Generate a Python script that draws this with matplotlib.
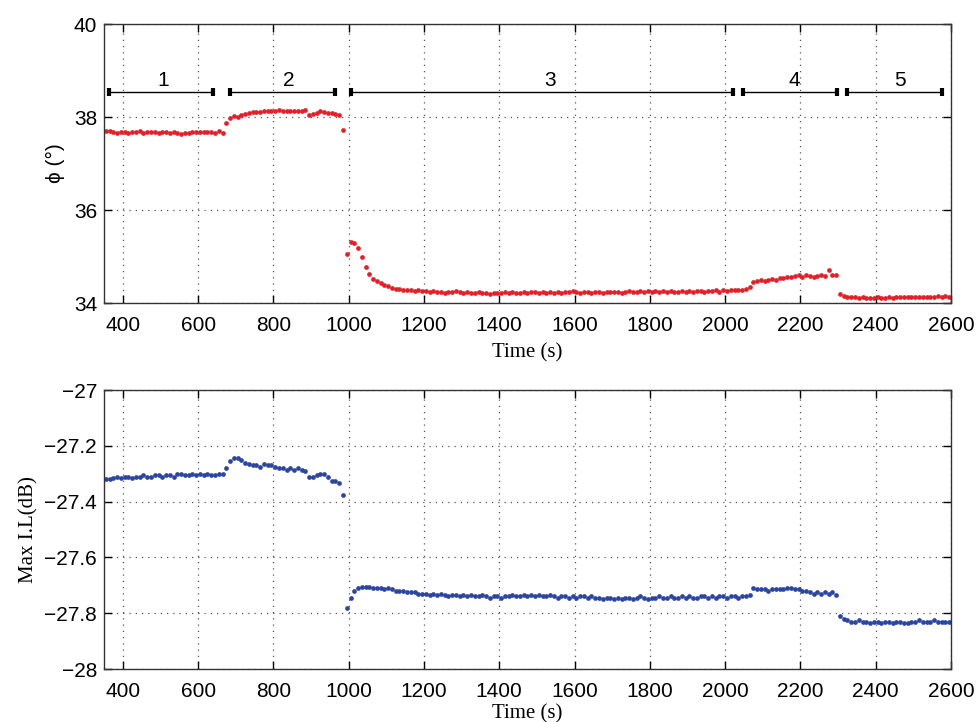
import numpy as np
import matplotlib
matplotlib.use("Agg")
import matplotlib.pyplot as plt

# sampling: one reading every 10 s starting at 355 s
t_start = 355
t_step = 10

# contact angle phi (deg)
phi = [
    # 355 - 665
    37.71, 37.70, 37.67, 37.66, 37.68, 37.67, 37.66, 37.68, 37.67, 37.69,
    37.66, 37.68, 37.67, 37.68, 37.66, 37.68, 37.67, 37.66, 37.67, 37.65,
    37.64, 37.65, 37.66, 37.67, 37.68, 37.67, 37.68, 37.67, 37.68, 37.66,
    37.69, 37.65,
    # 675 - 995
    37.88, 37.98, 38.02, 38.00, 38.05, 38.07, 38.08, 38.10, 38.11, 38.10,
    38.12, 38.13, 38.14, 38.13, 38.15, 38.12, 38.14, 38.13, 38.12, 38.13,
    38.14, 38.16, 38.04, 38.06, 38.09, 38.12, 38.10, 38.08, 38.09, 38.07,
    38.05, 37.72, 35.05,
    # 1005 - 1195
    35.32, 35.30, 35.18, 34.98, 34.78, 34.62, 34.52, 34.47, 34.42, 34.38,
    34.36, 34.33, 34.31, 34.30, 34.29, 34.28, 34.27, 34.26, 34.27, 34.25,
    # 1205 - 1995
    34.25, 34.24, 34.25, 34.23, 34.24, 34.22, 34.24, 34.23, 34.25, 34.23,
    34.22, 34.24, 34.22, 34.21, 34.23, 34.22, 34.22, 34.20, 34.22, 34.21,
    34.22, 34.23, 34.22, 34.23, 34.22, 34.21, 34.23, 34.22, 34.24, 34.23,
    34.22, 34.23, 34.22, 34.24, 34.22, 34.23, 34.22, 34.24, 34.23, 34.25,
    34.23, 34.22, 34.24, 34.23, 34.22, 34.24, 34.23, 34.22, 34.24, 34.23,
    34.23, 34.24, 34.22, 34.24, 34.25, 34.23, 34.24, 34.26, 34.24, 34.25,
    34.24, 34.25, 34.23, 34.25, 34.24, 34.25, 34.23, 34.24, 34.26, 34.24,
    34.25, 34.24, 34.26, 34.25, 34.24, 34.26, 34.25, 34.27, 34.24, 34.28,
    # 2005 - 2065
    34.26, 34.27, 34.29, 34.27, 34.28, 34.30, 34.34,
    # 2075 - 2295
    34.46, 34.48, 34.49, 34.48, 34.50, 34.51, 34.50, 34.53, 34.54, 34.55,
    34.56, 34.58, 34.60, 34.57, 34.60, 34.59, 34.57, 34.58, 34.60, 34.59,
    34.72, 34.60, 34.60,
    # 2305 - 2595
    34.19, 34.15, 34.13, 34.12, 34.12, 34.11, 34.12, 34.11, 34.10, 34.11,
    34.12, 34.11, 34.10, 34.12, 34.11, 34.12, 34.13, 34.12, 34.13, 34.12,
    34.13, 34.14, 34.13, 34.14, 34.13, 34.14, 34.15, 34.14, 34.15, 34.14,
]

# maximum insertion loss (dB)
max_il = [
    # 355 - 665
    -27.32, -27.32, -27.315, -27.31, -27.315, -27.31, -27.31, -27.315, -27.31, -27.31,
    -27.305, -27.31, -27.31, -27.305, -27.305, -27.31, -27.305, -27.305, -27.31, -27.30,
    -27.30, -27.305, -27.305, -27.30, -27.305, -27.30, -27.305, -27.30, -27.305, -27.305,
    -27.30, -27.30,
    # 675 - 995
    -27.28, -27.255, -27.245, -27.245, -27.25, -27.26, -27.265, -27.27, -27.27, -27.275,
    -27.265, -27.27, -27.27, -27.275, -27.28, -27.28, -27.285, -27.28, -27.285, -27.28,
    -27.285, -27.29, -27.31, -27.31, -27.305, -27.30, -27.30, -27.31, -27.325, -27.325,
    -27.335, -27.375, -27.78,
    # 1005 - 1195
    -27.745, -27.72, -27.71, -27.705, -27.705, -27.705, -27.71, -27.71, -27.71, -27.715,
    -27.71, -27.715, -27.72, -27.72, -27.72, -27.725, -27.725, -27.725, -27.73, -27.73,
    # 1205 - 1995
    -27.73, -27.735, -27.73, -27.735, -27.73, -27.735, -27.74, -27.735, -27.735, -27.74,
    -27.735, -27.74, -27.735, -27.74, -27.74, -27.735, -27.74, -27.745, -27.74, -27.74,
    -27.745, -27.74, -27.74, -27.735, -27.74, -27.74, -27.735, -27.74, -27.735, -27.74,
    -27.735, -27.74, -27.74, -27.735, -27.74, -27.745, -27.74, -27.74, -27.745, -27.74,
    -27.745, -27.74, -27.74, -27.745, -27.74, -27.745, -27.745, -27.75, -27.745, -27.745,
    -27.75, -27.745, -27.75, -27.745, -27.745, -27.75, -27.745, -27.74, -27.745, -27.75,
    -27.745, -27.745, -27.74, -27.745, -27.745, -27.74, -27.745, -27.745, -27.74, -27.745,
    -27.74, -27.745, -27.745, -27.74, -27.74, -27.745, -27.74, -27.745, -27.74, -27.74,
    # 2005 - 2065
    -27.745, -27.74, -27.74, -27.745, -27.74, -27.74, -27.735,
    # 2075 - 2295
    -27.71, -27.715, -27.715, -27.715, -27.72, -27.715, -27.715, -27.715, -27.715, -27.71,
    -27.71, -27.715, -27.715, -27.72, -27.72, -27.725, -27.73, -27.725, -27.73, -27.725,
    -27.73, -27.725, -27.735,
    # 2305 - 2595
    -27.81, -27.82, -27.825, -27.83, -27.83, -27.825, -27.83, -27.83, -27.835, -27.83,
    -27.83, -27.835, -27.83, -27.83, -27.835, -27.83, -27.83, -27.835, -27.835, -27.83,
    -27.83, -27.825, -27.83, -27.83, -27.83, -27.825, -27.83, -27.83, -27.83, -27.83,
]

# test stages marked above the top plot
stage_names = ['1', '2', '3', '4', '5']
stage_start = [363, 686, 1006, 2048, 2325]
stage_end = [640, 965, 2021, 2298, 2576]
stage_label_x = [508, 842, 1535, 2185, 2464]
stage_y = 38.54

t = t_start + t_step * np.arange(len(phi))

plt.rcParams['font.family'] = ['Liberation Sans', 'DejaVu Sans']
serif = ['Liberation Serif', 'DejaVu Serif']

fig = plt.figure(figsize=(9.77, 7.22), dpi=100)
ax1 = fig.add_axes([0.1064, 0.5803, 0.867, 0.3864])
ax2 = fig.add_axes([0.1064, 0.0734, 0.867, 0.3864])

red = '#e3202a'
blue = '#2c45a0'

ax1.plot(t, phi, 'o', color=red, markersize=3.4, markeredgewidth=0)
ax2.plot(t, max_il, 'o', color=blue, markersize=3.4, markeredgewidth=0)

# stage brackets
for name, s, e, lx in zip(stage_names, stage_start, stage_end, stage_label_x):
    ax1.plot([s, e], [stage_y, stage_y], color='black', lw=1.0)
    ax1.plot([s, e], [stage_y, stage_y], linestyle='none', marker='|',
             color='black', markersize=6, markeredgewidth=3)
    ax1.text(lx, stage_y + 0.05, name, ha='center', va='bottom', fontsize=15)

ax1.set_xlim(350, 2600)
ax1.set_ylim(34, 40)
ax1.set_yticks([34, 36, 38, 40])
ax1.set_ylabel('ϕ (°)', fontsize=15, labelpad=6)
ax1.set_xlabel('Time (s)', fontsize=15, family=serif, labelpad=6)

ax2.set_xlim(350, 2600)
ax2.set_ylim(-28, -27)
ax2.set_yticks([-28, -27.8, -27.6, -27.4, -27.2, -27])
ax2.set_yticklabels(['\u221228', '\u221227.8', '\u221227.6', '\u221227.4', '\u221227.2', '\u221227'])
ax2.set_ylabel('Max I.L(dB)', fontsize=15, family=serif, labelpad=4)
ax2.set_xlabel('Time (s)', fontsize=15, family=serif, labelpad=3)

for ax in (ax1, ax2):
    ax.set_xticks(range(400, 2601, 200))
    ax.tick_params(direction='in', top=True, right=True, length=6, width=1,
                   labelsize=15)
    ax.tick_params(axis='x', pad=9)
    ax.tick_params(axis='y', pad=5)
    ax.grid(True, linestyle=(0, (1, 4)), color='#555555', linewidth=0.9)
    for sp in ax.spines.values():
        sp.set_linewidth(1.0)
        sp.set_color('#333333')

fig.savefig('out.png', dpi=100)
